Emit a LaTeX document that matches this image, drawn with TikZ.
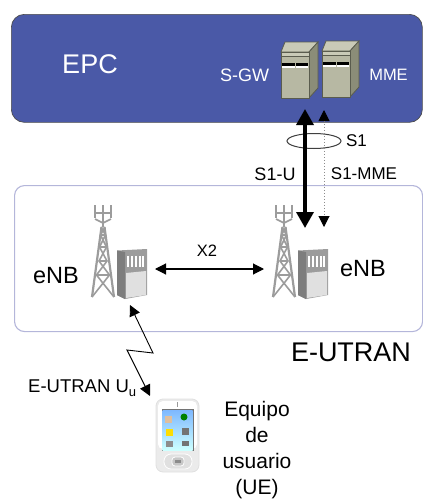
\documentclass[tikz,border=0pt]{standalone}
\usepackage{fontspec}
\setmainfont{Liberation Sans}
\usetikzlibrary{arrows.meta,calc,shapes.geometric}
\definecolor{epcblue}{HTML}{4A59A7}
\definecolor{ranline}{HTML}{B4B6DA}
\definecolor{srvfront}{HTML}{B7B8A3}
\definecolor{srvside}{HTML}{8B8D78}
\definecolor{srvtop}{HTML}{C9CAB7}
\definecolor{srvline}{HTML}{5A5C4E}
\definecolor{twrgray}{HTML}{9C9C9C}
\tikzset{
    label/.style =  {inner sep=0pt,
                    text=black,
                    font=\fontsize{17}{20}\selectfont},
    biglabel/.style = {inner sep=0pt,
                    text=black,
                    font=\fontsize{27}{30}\selectfont},
    whitelabel/.style = {label,
                    text=white},
    S1U/.style =    {draw,
                    line width=3.4pt,
                    {Stealth[length=16pt,width=17pt,inset=0pt]}-{Stealth[length=16pt,width=17pt,inset=0pt]}},
    S1MME/.style =  {draw=black!45,
                    line width=1pt,
                    dotted,
                    {Stealth[length=11pt,width=11pt,inset=0pt,black]}-{Stealth[length=11pt,width=11pt,inset=0pt,black]}},
    X2link/.style = {draw,
                    line width=1.1pt,
                    {Stealth[length=11pt,width=11pt,inset=0pt]}-{Stealth[length=11pt,width=11pt,inset=0pt]}},
    air/.style =    {draw,
                    line width=0.9pt,
                    {Stealth[length=11pt,width=11pt,inset=0pt]}-{Stealth[length=11pt,width=11pt,inset=0pt]}},
    pics/server/.style = {code = {
        \filldraw[fill=srvtop,draw=srvline,line width=0.8pt] (0,0) -- (4,-10) -- (37,-10) -- (28,0) -- cycle;
        \filldraw[fill=srvside,draw=srvline,line width=0.8pt] (28,0) -- (37,-10) -- (37,36) -- (28,46) -- cycle;
        \filldraw[fill=srvfront,draw=srvline,line width=0.8pt] (0,0) rectangle (28,46);
        \fill[srvtop] (0.5,0.5) rectangle (27.5,4);
        \draw[srvline,line width=0.8pt] (0,4.5) -- (28,4.5);
        \fill[white] (1,11) rectangle (27,16);
        \fill[black] (1,11) rectangle (27,13.5);
        \draw[srvfront,line width=0.8pt] (14,11) -- (14,16);
    }},
    pics/tower/.style = {code = {
        \begin{scope}[twrgray,line width=2.2pt]
        \draw (-11,0) -- (-1.5,-70) (11,0) -- (1.5,-70);
        \draw[line width=1.6pt] (-11,0) -- (6.5,-22) -- (-4,-36) -- (3.5,-50) -- (-2.5,-62) -- (2,-70)
                                (11,0) -- (-6.5,-22) -- (4,-36) -- (-3.5,-50) -- (2.5,-62) -- (-2,-70)
                                (-6.5,-22) -- (6.5,-22) (-4,-36) -- (4,-36) (-3.5,-50) -- (3.5,-50) (-2.5,-62) -- (2.5,-62);
        \draw[line width=2.6pt] (0,-70) -- (0,-92);
        \draw[line width=2.2pt] (-8,-92) -- (-8,-79) (8,-92) -- (8,-79);
        \draw[line width=1.6pt] (-8,-84) -- (8,-84) (-8,-78) -- (0,-74) -- (8,-78);
        \end{scope}
    }},
    pics/cabinet/.style = {code = {
        \fill[twrgray] (0,0.5) -- (30,-1) -- (30,45) -- (8,49) -- (0,45) -- cycle;
        \fill[black!20!twrgray] (0,0.5) -- (8,2) -- (8,49) -- (0,45) -- cycle;
        \fill[black!12] (9,23) -- (29,21) -- (29,45) -- (9,48) -- cycle;
        \foreach \xx in {11,15,19,23,26}
            \draw[white,line width=1.1pt] (\xx,6) -- (\xx,17);
    }},
    pics/phone/.style = {code = {
        \filldraw[fill=black!8,draw=black!12,line width=0.8pt,rounded corners=7pt] (0,0) rectangle (43,73);
        \fill[white,rounded corners=5pt] (2,2) rectangle (41,50);
        \fill[black!55] (5.5,10) rectangle (37.5,52);
        \fill[top color=cyan!45!blue!50,bottom color=cyan!20] (6.5,11.5) rectangle (36.5,51);
        \fill[black!40] (21,3) rectangle (22,8);
        \fill[brown!50] (9,17) rectangle (16,24);
        \fill[green!50!black] (28,18) circle (3.5pt);
        \fill[yellow!80!orange] (10,30) rectangle (17,37);
        \fill[black!55] (26,29) rectangle (33,36);
        \fill[black!45] (10,42) rectangle (17,48);
        \fill[black!55] (26,42) rectangle (33,47);
        \filldraw[fill=black!12,draw=white,line width=0.8pt,rounded corners=7pt] (8,55) rectangle (36,70);
        \filldraw[fill=black!22,draw=white,line width=0.8pt,rounded corners=3pt] (16,58) rectangle (28,67);
        \fill[black!45] (19,61) rectangle (25,64);
    }}
}
\begin{document}
\begin{tikzpicture}[x=1pt,y=-1pt]
    \useasboundingbox (0,0) rectangle (423,501);
    % boxes
    \node[draw=black!70,fill=epcblue,line width=0.7pt,rounded corners=13pt,minimum width=411pt,minimum height=108pt,inner sep=0pt,anchor=north west] (EPC) at (11,14) {};
    \node[draw=ranline,line width=1.1pt,rounded corners=10pt,minimum width=408pt,minimum height=146pt,inner sep=0pt,anchor=north west] (EUTRAN) at (14,185) {};

    % equipment
    \pic at (281,52) {server};
    \pic at (322,51) {server};
    \pic at (103,297) {tower};
    \pic at (284,297) {tower};
    \pic at (117,250) {cabinet};
    \pic at (298,250) {cabinet};
    \pic at (156,399) {phone};

    % labels
    \node[biglabel,text=white] (epclabel) at (90,64) {EPC};
    \node[whitelabel,font=\fontsize{18}{20}\selectfont] (sgw) at (244.5,75) {S-GW};
    \node[whitelabel,font=\fontsize{16.5}{20}\selectfont] (mme) at (388.5,75) {MME};
    \node[label] (s1) at (356.5,141) {S1};
    \node[label,font=\fontsize{18}{20}\selectfont] (s1u) at (275,174) {S1-U};
    \node[label] (s1mme) at (364,174) {S1-MME};
    \node[label,font=\fontsize{16.5}{20}\selectfont] (x2) at (207,251) {X2};
    \node[label,font=\fontsize{23.5}{26}\selectfont] (enbl) at (56,276) {eNB};
    \node[label,font=\fontsize{23.5}{26}\selectfont] (enbr) at (363,269) {eNB};
    \node[biglabel] (ran) at (351,352) {E-UTRAN};
    \node[label,anchor=base west,font=\fontsize{18.5}{20}\selectfont] (uu) at (28,392) {E-UTRAN U\raisebox{-4pt}{\fontsize{13}{14}\selectfont u}};
    \node[label,align=center,font=\fontsize{21}{26}\selectfont] (ue) at (257,450) {Equipo\\de\\usuario\\(UE)};

    % end points
    \coordinate (sgwport) at (305,109);
    \coordinate (enbport) at (305,228);
    \coordinate (mmeport) at (324,110);
    \coordinate (enbport2) at (324,227);
    \coordinate (x2l) at (155,269);
    \coordinate (x2r) at (264,269);
    \coordinate (air1) at (130,305);
    \coordinate (air2) at (153,353);
    \coordinate (air3) at (127,350);
    \coordinate (air4) at (150,396);

    % links
    \node[draw=black!75,line width=1pt,ellipse,minimum width=54pt,minimum height=15pt,inner sep=0pt] (ring) at (314,141) {};
    \path (sgwport) edge [S1U] node [] {} (enbport)
          (mmeport) edge [S1MME] node [] {} (enbport2)
          (x2l) edge [X2link] node [] {} (x2r);
    \draw [air] (air1) -- (air2) -- (air3) -- (air4);
\end{tikzpicture}
\end{document}
